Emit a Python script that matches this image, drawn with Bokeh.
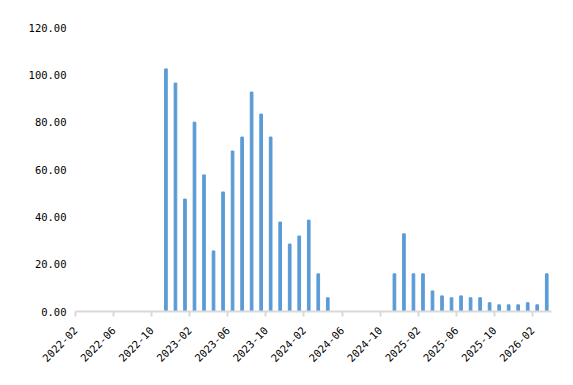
import math
import pandas as pd
from bokeh.plotting import figure
from bokeh.models import ColumnDataSource, FixedTicker, Range1d, NumeralTickFormatter
from bokeh.embed import file_html
from bokeh.resources import INLINE

# ---- data ----
months = [
    "2022-11", "2022-12",
    "2023-01", "2023-02", "2023-03", "2023-04", "2023-05", "2023-06",
    "2023-07", "2023-08", "2023-09", "2023-10", "2023-11", "2023-12",
    "2024-01", "2024-02", "2024-03", "2024-04",
    "2024-11", "2024-12",
    "2025-01", "2025-02", "2025-03", "2025-04", "2025-05", "2025-06",
    "2025-07", "2025-08", "2025-09", "2025-10", "2025-11", "2025-12",
    "2026-01", "2026-02", "2026-03",
]
values = [
    102.5, 96.5,
    47.5, 80.0, 57.7, 25.6, 50.5, 67.8,
    73.7, 92.7, 83.4, 73.7, 37.8, 28.5,
    31.9, 38.6, 15.9, 5.8,
    15.9, 32.8,
    15.9, 15.9, 8.7, 6.6, 5.8, 6.6,
    5.8, 5.8, 3.7, 2.8, 2.8, 2.8,
    3.7, 2.8, 15.9,
]
tick_labels = ["2022-02", "2022-06", "2022-10", "2023-02", "2023-06", "2023-10",
               "2024-02", "2024-06", "2024-10", "2025-02", "2025-06", "2025-10",
               "2026-02"]
y_ticks = [0, 20, 40, 60, 80, 100, 120]
start_month = "2022-02"
end_month = "2026-04"


def month_index(s):
    p = pd.Period(s, freq="M")
    return (p - pd.Period(start_month, freq="M")).n


xs = [month_index(m) + 0.5 for m in months]
src = ColumnDataSource(dict(x=xs, top=values))

FONT = "DejaVu Sans Mono"

p = figure(
    frame_width=476, frame_height=284,
    min_border_left=75, min_border_top=27, min_border_right=14, min_border_bottom=60,
    output_backend="svg", toolbar_location=None,
    x_range=Range1d(0, month_index(end_month)), y_range=Range1d(0, 120),
)
p.vbar(x="x", top="top", width=0.28, source=src, color="#5B9BD5")

p.grid.visible = False
p.outline_line_color = None

# x axis
tick_pos = [month_index(t) for t in tick_labels]
p.xaxis.ticker = FixedTicker(ticks=tick_pos)
p.xaxis.major_label_overrides = {t: l for t, l in zip(tick_pos, tick_labels)}
p.xaxis.major_label_orientation = math.pi / 4
p.xaxis.axis_line_color = "#d9d9d9"
p.xaxis.axis_line_width = 2
p.xaxis.major_tick_line_color = "#d9d9d9"
p.xaxis.major_tick_line_width = 2
p.xaxis.major_tick_out = 5
p.xaxis.major_tick_in = 0
p.xaxis.minor_tick_line_color = None
p.xaxis.major_label_text_font = FONT
p.xaxis.major_label_text_font_size = "10.5px"
p.xaxis.major_label_text_color = "#000000"
p.xaxis.major_label_standoff = 12

# y axis
p.yaxis.ticker = FixedTicker(ticks=y_ticks)
p.yaxis.formatter = NumeralTickFormatter(format="0.00")
p.yaxis.axis_line_color = None
p.yaxis.major_tick_line_color = None
p.yaxis.minor_tick_line_color = None
p.yaxis.major_tick_out = 0
p.yaxis.major_label_standoff = 9
p.yaxis.major_label_text_font = FONT
p.yaxis.major_label_text_font_size = "10.5px"
p.yaxis.major_label_text_color = "#000000"

open("out.html", "w").write(file_html(p, INLINE))
